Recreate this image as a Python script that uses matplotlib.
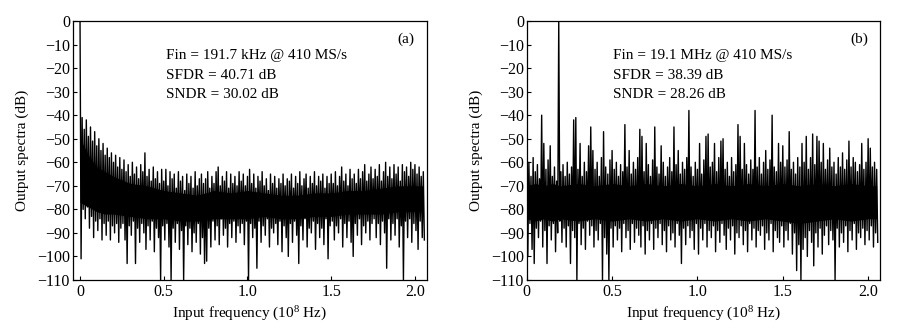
import numpy as np
import matplotlib
matplotlib.use("Agg")
import matplotlib.pyplot as plt

plt.rcParams["font.family"] = ["Liberation Serif", "DejaVu Serif"]
plt.rcParams["mathtext.fontset"] = "custom"
plt.rcParams["mathtext.rm"] = "Liberation Serif"
plt.rcParams["mathtext.default"] = "regular"

# FFT bin spacing (units of 10^8 Hz) and bin count per spectrum
BIN_STEP = 0.0125
N_BINS = 165

# (a) Fin = 191.7 kHz: per-bin peak and trough levels of the output spectrum (dB)
peaks_a = [
    0, -41, -46, -42, -49, -45, -51, -47, -53, -50, -55, -52, -57, -54, -58, -56, -60, -57, -62, -58,
    -63, -59, -64, -61, -66, -60, -65, -62, -67, -61, -64, -56, -66, -63, -68, -62, -67, -64, -69, -63,
    -68, -63, -70, -64, -67, -65, -71, -64, -68, -66, -72, -65, -69, -66, -71, -64, -70, -67, -65, -69,
    -67, -64, -71, -66, -69, -64, -62, -70, -66, -68, -64, -71, -65, -69, -66, -70, -64, -68, -65, -70,
    -66, -63, -69, -65, -71, -66, -68, -64, -70, -67, -72, -65, -69, -66, -71, -67, -69, -65, -70, -67,
    -68, -65, -71, -66, -69, -64, -70, -67, -65, -71, -66, -69, -64, -70, -66, -68, -65, -71, -66, -69,
    -65, -69, -64, -70, -66, -62, -68, -65, -70, -63, -67, -65, -69, -63, -67, -64, -61, -68, -65, -62,
    -67, -63, -66, -61, -68, -64, -60, -66, -62, -67, -61, -65, -62, -68, -61, -64, -62, -66, -60, -63,
    -61, -65, -62, -66, -64,
]
troughs_a = [
    -101, -80, -84, -79, -88, -83, -92, -85, -89, -84, -93, -86, -91, -85, -93, -87, -90, -86, -94, -88,
    -86, -93, -103, -87, -91, -85, -103, -88, -94, -86, -90, -97, -87, -93, -85, -98, -88, -92, -110, -87,
    -93, -86, -96, -110, -88, -94, -86, -97, -89, -110, -87, -95, -88, -98, -90, -94, -86, -99, -92, -103,
    -102, -88, -96, -85, -93, -87, -95, -84, -91, -88, -96, -86, -92, -85, -94, -87, -90, -86, -95, -85,
    -110, -86, -92, -88, -105, -85, -94, -87, -91, -84, -96, -88, -90, -86, -95, -85, -98, -87, -92, -100,
    -86, -94, -85, -91, -103, -87, -93, -84, -96, -88, -90, -85, -97, -86, -92, -88, -95, -84, -101, -87,
    -85, -93, -87, -90, -84, -96, -86, -92, -85, -94, -100, -86, -91, -84, -95, -87, -90, -85, -93, -86,
    -84, -92, -86, -95, -85, -90, -105, -84, -93, -86, -91, -84, -96, -87, -110, -85, -92, -84, -94, -86,
    -89, -97, -85, -92, -93,
]

# (b) Fin = 19.1 MHz: per-bin peak and trough levels of the output spectrum (dB)
peaks_b = [
    -50, -60, -66, -58, -64, -61, -67, -40, -52, -63, -59, -53, -66, -62, -68, 0, -64, -61, -66, -60,
    -65, -62, -42, -41, -63, -52, -66, -60, -64, -53, -45, -55, -63, -60, -66, -58, -47, -62, -65, -59,
    -55, -63, -60, -66, -61, -64, -44, -62, -55, -65, -60, -63, -58, -46, -49, -64, -52, -61, -66, -59,
    -45, -62, -65, -53, -60, -66, -62, -58, -64, -45, -61, -55, -65, -60, -63, -58, -38, -62, -66, -60,
    -63, -52, -65, -59, -49, -48, -62, -60, -52, -64, -58, -51, -50, -63, -60, -66, -58, -64, -61, -44,
    -49, -63, -52, -61, -65, -59, -63, -38, -62, -58, -65, -60, -55, -63, -59, -40, -62, -64, -52, -60,
    -53, -62, -59, -47, -63, -60, -65, -58, -62, -52, -60, -49, -63, -58, -48, -61, -49, -51, -60, -52,
    -63, -59, -54, -62, -60, -65, -58, -62, -56, -63, -59, -51, -62, -58, -60, -64, -61, -52, -63, -60,
    -50, -54, -62, -60, -63,
]
troughs_b = [
    -100, -86, -97, -103, -88, -92, -85, -96, -89, -103, -87, -93, -86, -98, -90, -85, -94, -88, -96, -87,
    -103, -89, -92, -110, -86, -95, -88, -97, -85, -91, -87, -96, -89, -93, -86, -110, -92, -99, -110, -88,
    -96, -87, -93, -88, -98, -86, -92, -89, -97, -86, -94, -88, -91, -96, -87, -99, -89, -93, -86, -97,
    -88, -92, -86, -95, -89, -98, -87, -93, -90, -96, -86, -91, -103, -88, -95, -87, -92, -89, -97, -86,
    -99, -88, -93, -86, -96, -89, -92, -87, -98, -89, -94, -86, -91, -97, -88, -93, -87, -99, -90, -92,
    -87, -95, -89, -98, -86, -93, -88, -96, -89, -91, -87, -97, -90, -93, -86, -98, -89, -92, -94, -87,
    -96, -89, -93, -86, -99, -90, -106, -95, -110, -97, -92, -100, -89, -94, -104, -90, -96, -88, -99, -91,
    -87, -95, -89, -93, -110, -88, -96, -90, -94, -87, -98, -89, -93, -86, -97, -90, -92, -88, -95, -89,
    -93, -87, -96, -90, -94,
]

# Dense noise core (where the spectrum is solid black), upper/lower bounds in dB
core_freq = [0, 0.05, 0.1, 0.15, 0.2, 0.3, 0.4, 0.5, 0.6, 0.7, 0.8, 0.9, 1.0, 1.1, 1.2,
             1.3, 1.4, 1.5, 1.6, 1.7, 1.8, 1.9, 2.0, 2.05]
core_hi_a = [-50, -57, -62, -64, -66, -69, -70, -72, -73, -74, -72, -73, -72, -73, -74,
             -74, -73, -73, -72, -72, -71, -70, -70, -70]
core_lo_a = [-77, -79, -81, -82, -82, -83, -84, -84, -85, -85, -84, -84, -84, -83, -84,
             -84, -83, -83, -82, -82, -82, -81, -81, -81]
core_hi_b = [-70, -69, -70, -69, -70, -69, -70, -69, -70, -69, -70, -69, -70, -69, -70,
             -69, -70, -69, -70, -69, -70, -69, -70, -70]
core_lo_b = [-84, -85, -84, -85, -84, -85, -84, -85, -84, -85, -84, -85, -84, -85, -84,
             -85, -84, -85, -86, -85, -84, -85, -84, -84]

panel_tags = ["(a)", "(b)"]
annotations = [
    ["Fin = 191.7 kHz @ 410 MS/s", "SFDR = 40.71 dB", "SNDR = 30.02 dB"],
    ["Fin = 19.1 MHz @ 410 MS/s", "SFDR = 38.39 dB", "SNDR = 28.26 dB"],
]
x_ticks = [0, 0.5, 1.0, 1.5, 2.0]
x_tick_labels = ["0", "0.5", "1.0", "1.5", "2.0"]
y_ticks = list(range(0, -111, -10))


def spectrum_trace(peaks, troughs):
    """Interleave each bin's peak and trough so the trace sweeps the noise band."""
    f = np.arange(N_BINS) * BIN_STEP
    x = np.empty(2 * N_BINS)
    y = np.empty(2 * N_BINS)
    x[0::2] = f
    x[1::2] = f + BIN_STEP / 2
    y[0::2] = peaks
    y[1::2] = troughs
    return x, y


fig = plt.figure(figsize=(9.14, 3.34), dpi=100)
ax_a = fig.add_axes([0.0795, 0.1617, 0.3873, 0.7754])
ax_b = fig.add_axes([0.5763, 0.1617, 0.3866, 0.7754])

panels = [
    (ax_a, peaks_a, troughs_a, core_hi_a, core_lo_a, (-0.044, 2.07)),
    (ax_b, peaks_b, troughs_b, core_hi_b, core_lo_b, (0.0, 2.07)),
]

fs_tick = 11.5
fs_text = 11
for k, (ax, pk, tr, chi, clo, xl) in enumerate(panels):
    ax.fill_between(core_freq, chi, clo, color="black", lw=0)
    x, y = spectrum_trace(pk, tr)
    ax.plot(x, y, color="black", lw=1.0)
    ax.set_xlim(*xl)
    ax.set_ylim(-110, 0)
    ax.set_xticks(x_ticks)
    ax.set_xticklabels(x_tick_labels)
    ax.set_yticks(y_ticks)
    ax.tick_params(direction="in", length=3, width=0.8, labelsize=fs_tick, pad=3)
    ax.tick_params(axis="y", pad=2)
    for s in ax.spines.values():
        s.set_linewidth(0.9)
    ax.set_xlabel("Input frequency (10$^{8}$ Hz)", fontsize=fs_text, labelpad=3)
    ax.set_ylabel("Output spectra (dB)", fontsize=fs_text, labelpad=6)
    ax.text(0.94, 0.93, panel_tags[k], transform=ax.transAxes, fontsize=fs_text,
            ha="center", va="center")
    x0 = 0.263 if k == 0 else 0.243
    for j, line in enumerate(annotations[k]):
        ax.text(x0, 0.865 - j * 0.0735, line, transform=ax.transAxes,
                fontsize=fs_text, ha="left", va="center")

fig.savefig("out.png", dpi=100, facecolor="white")
